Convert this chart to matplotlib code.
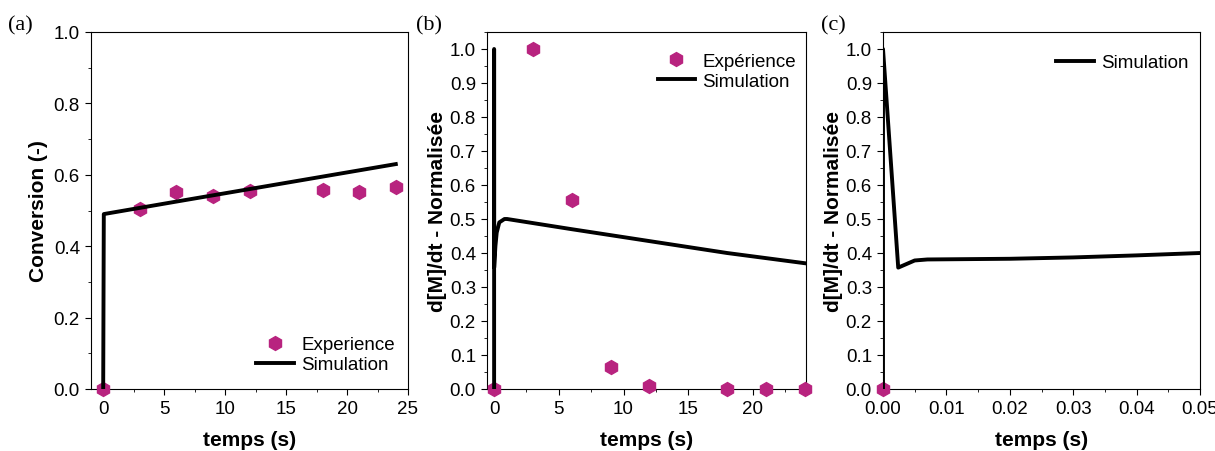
import numpy as np
import matplotlib.pyplot as plt
from matplotlib.ticker import MultipleLocator

plt.rcParams['font.family'] = ['Liberation Sans', 'DejaVu Sans']

# (a) conversion
t_exp = [0, 3, 6, 9, 12, 18, 21, 24]
conv_exp = [0.0, 0.505, 0.553, 0.540, 0.555, 0.558, 0.551, 0.565]
t_sim_a = [0, 0.05, 6, 12, 18, 24]
conv_sim = [0.0, 0.49, 0.525, 0.56, 0.595, 0.63]

# (b) normalised rate, full time scale
rate_exp = [0.0, 1.0, 0.557, 0.065, 0.008, 0.0, 0.0, 0.0]
t_sim_b = [0, 0, 0.0024, 0.1, 0.2, 0.4, 0.8, 1.0, 6, 12, 18, 24]
rate_sim_b = [0.0, 1.0, 0.357, 0.42, 0.46, 0.49, 0.50, 0.50, 0.47, 0.435, 0.40, 0.37]

# (c) zoom on the first 0.05 s
t_sim_c = [0, 0, 0.0024, 0.005, 0.007, 0.02, 0.03, 0.04, 0.05]
rate_sim_c = [0.0, 1.0, 0.357, 0.378, 0.381, 0.383, 0.387, 0.393, 0.40]

mcol = '#B8237F'
fig = plt.figure(figsize=(12.15, 4.52), dpi=100)
axa = fig.add_axes([91 / 1215, 62 / 452, 317 / 1215, 357 / 452])
axb = fig.add_axes([487 / 1215, 62 / 452, 319 / 1215, 357 / 452])
axc = fig.add_axes([883 / 1215, 62 / 452, 317 / 1215, 357 / 452])

mk = dict(marker='h', ls='none', ms=10, color=mcol, mec=mcol, clip_on=False, zorder=3)
ln = dict(color='black', lw=2.8, zorder=4)
leg = dict(frameon=False, fontsize=13.5, handlelength=2.0, handletextpad=0.4,
           labelspacing=0.15)

axa.plot(t_exp, conv_exp, label='Experience', **mk)
axa.plot(t_sim_a, conv_sim, label='Simulation', **ln)
axa.set_xlim(-1, 25)
axa.set_ylim(0, 1.0)
axa.xaxis.set_major_locator(MultipleLocator(5))
axa.xaxis.set_minor_locator(MultipleLocator(2.5))
axa.yaxis.set_major_locator(MultipleLocator(0.2))
axa.yaxis.set_minor_locator(MultipleLocator(0.1))
axa.set_ylabel('Conversion (-)', fontsize=15, fontweight='bold', labelpad=4)
axa.legend(loc='lower right', bbox_to_anchor=(1.012, -0.003), **leg)

axb.plot(t_exp, rate_exp, label='Expérience', **mk)
axb.plot(t_sim_b, rate_sim_b, label='Simulation', **ln)
axb.set_xlim(-0.55, 24.1)
axb.set_ylim(0, 1.05)
axb.xaxis.set_major_locator(MultipleLocator(5))
axb.xaxis.set_minor_locator(MultipleLocator(2.5))
axb.yaxis.set_major_locator(MultipleLocator(0.1))
axb.yaxis.set_minor_locator(MultipleLocator(0.05))
axb.set_ylabel('d[M]/dt - Normalisée', fontsize=15, fontweight='bold', labelpad=2)
axb.legend(loc='upper right', bbox_to_anchor=(1.022, 0.99), **leg)

axc.plot([0], [0], **mk)
axc.plot(t_sim_c, rate_sim_c, label='Simulation', **ln)
axc.set_xlim(0, 0.05)
axc.set_ylim(0, 1.05)
axc.xaxis.set_major_locator(MultipleLocator(0.01))
axc.xaxis.set_minor_locator(MultipleLocator(0.005))
axc.yaxis.set_major_locator(MultipleLocator(0.1))
axc.yaxis.set_minor_locator(MultipleLocator(0.05))
axc.xaxis.set_major_formatter(plt.FormatStrFormatter('%.2f'))
axc.set_ylabel('d[M]/dt - Normalisée', fontsize=15, fontweight='bold', labelpad=2)
axc.legend(loc='upper right', bbox_to_anchor=(1.017, 0.985), **leg)

for ax in [axa, axb, axc]:
    ax.set_xlabel('temps (s)', fontsize=15, fontweight='bold', labelpad=9)
    ax.tick_params(which='both', direction='out', labelsize=13.5, top=False,
                   right=False, pad=4)
    ax.tick_params(which='major', length=4)
    ax.tick_params(which='minor', length=2.5)
    for s in ax.spines.values():
        s.set_linewidth(0.8)

for x, lab in zip([8, 416, 821], ['(a)', '(b)', '(c)']):
    fig.text(x / 1215, 1 - 26 / 452, lab, fontsize=16, family='Liberation Serif',
             va='center', ha='left')

fig.savefig('out.png', dpi=100)
